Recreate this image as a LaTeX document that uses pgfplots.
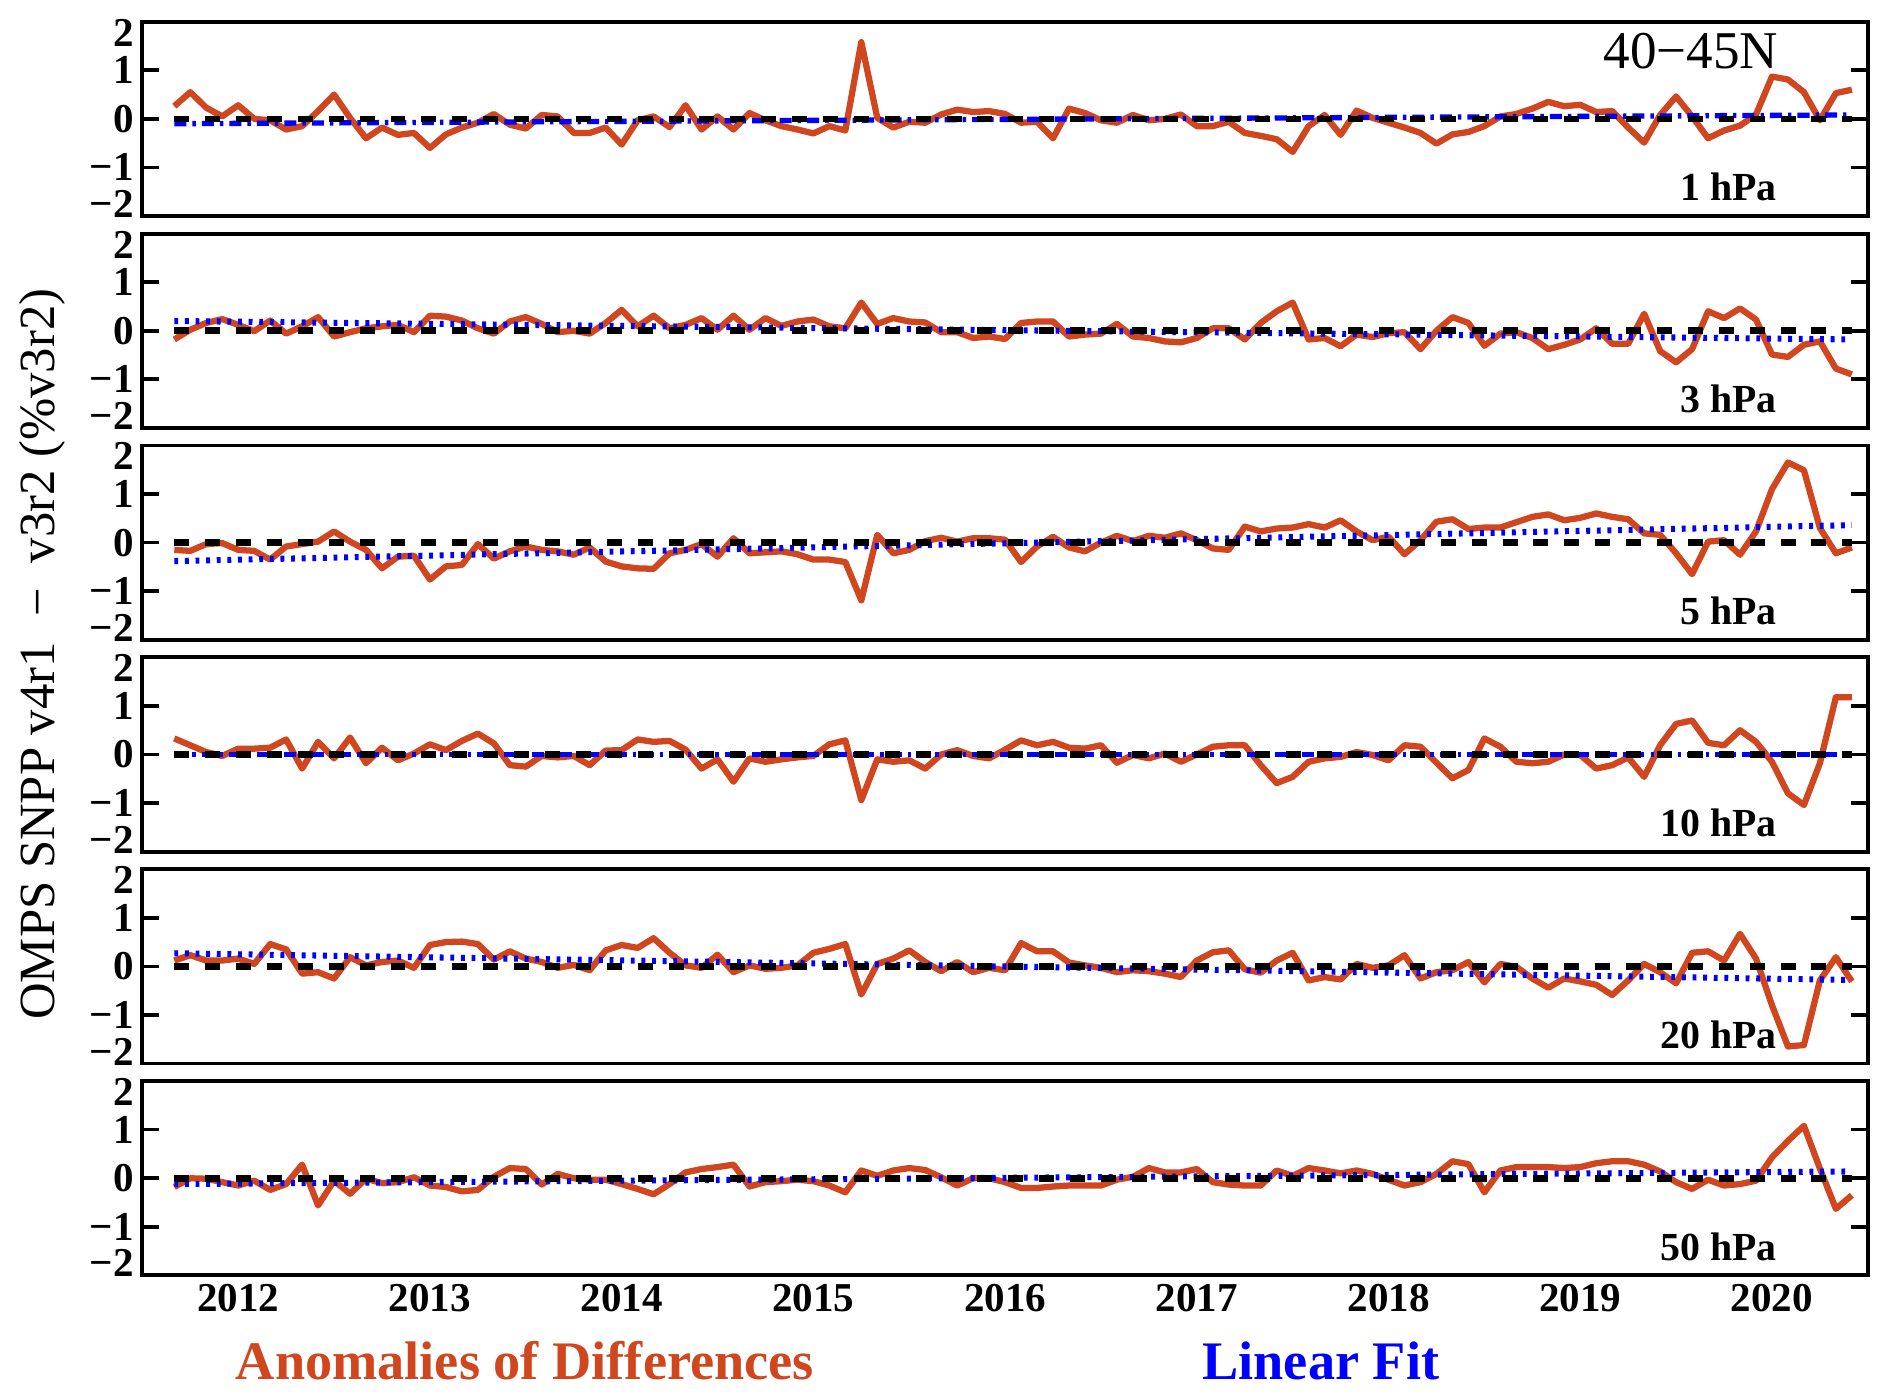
\documentclass[border=0pt]{standalone}
\usepackage{fontspec}
\setmainfont{Liberation Serif}
\usepackage{pgfplots}
\usepackage{pgfplotstable}
\pgfplotsset{compat=1.18}
\usepgfplotslibrary{groupplots}
\definecolor{anomred}{RGB}{208,70,30}

\newcommand{\tickfont}{\fontsize{17}{17}\selectfont\bfseries}
\newcommand{\labfont}{\fontsize{16.5}{16.5}\selectfont\bfseries}
\newcommand{\legfont}{\fontsize{22.5}{22.5}\selectfont\bfseries}

% month index k: 0 = Jan 2012, 108 = Jan 2021
\pgfplotstableread{
k p1 p2 p3 p4 p5 p6
2 0.26 -0.18 -0.15 0.33 0.12 -0.18
3 0.55 0.02 -0.17 0.19 0.23 0.00
4 0.23 0.16 -0.03 0.05 0.12 -0.01
5 0.05 0.24 -0.01 -0.03 0.12 -0.08
6 0.28 0.12 -0.15 0.12 0.16 -0.15
7 0.00 -0.01 -0.17 0.12 0.05 -0.05
8 -0.03 0.21 -0.35 0.14 0.46 -0.24
9 -0.22 -0.06 -0.08 0.31 0.35 -0.12
10 -0.15 0.09 -0.03 -0.29 -0.15 0.28
11 0.16 0.28 0.02 0.26 -0.12 -0.56
12 0.50 -0.12 0.23 -0.08 -0.25 -0.05
13 0.02 -0.03 0.02 0.35 0.19 -0.32
14 -0.40 0.05 -0.15 -0.18 0.02 -0.01
15 -0.18 0.09 -0.53 0.14 0.09 -0.10
16 -0.33 0.12 -0.29 -0.12 0.12 -0.08
17 -0.29 -0.03 -0.27 0.02 -0.03 0.02
18 -0.60 0.31 -0.76 0.21 0.44 -0.15
19 -0.32 0.29 -0.49 0.09 0.50 -0.18
20 -0.18 0.21 -0.46 0.28 0.51 -0.27
21 -0.08 0.05 -0.03 0.43 0.46 -0.24
22 0.10 -0.06 -0.33 0.23 0.14 0.03
23 -0.12 0.19 -0.18 -0.22 0.31 0.21
24 -0.20 0.28 -0.08 -0.25 0.16 0.19
25 0.08 0.14 -0.15 -0.03 0.09 -0.13
26 0.05 -0.03 -0.18 -0.06 -0.03 0.09
27 -0.29 0.00 -0.25 -0.03 0.03 0.00
28 -0.29 -0.06 -0.10 -0.22 -0.08 -0.03
29 -0.18 0.16 -0.39 0.08 0.33 -0.03
30 -0.53 0.43 -0.49 0.09 0.44 -0.12
31 -0.03 0.09 -0.53 0.31 0.38 -0.22
32 0.05 0.31 -0.54 0.26 0.58 -0.33
33 -0.17 0.05 -0.22 0.28 0.28 -0.12
34 0.28 0.12 -0.15 0.10 0.02 0.12
35 -0.22 0.26 -0.03 -0.29 -0.03 0.19
36 0.05 0.02 -0.29 -0.10 0.24 0.23
37 -0.22 0.31 0.09 -0.56 -0.12 0.28
38 0.12 0.02 -0.22 -0.08 0.02 -0.17
39 -0.03 0.26 -0.20 -0.15 -0.05 -0.08
40 -0.15 0.10 -0.18 -0.10 -0.03 -0.06
41 -0.22 0.19 -0.24 -0.06 0.02 -0.03
42 -0.30 0.23 -0.35 -0.03 0.28 -0.06
43 -0.15 0.09 -0.35 0.21 0.36 -0.15
44 -0.24 0.05 -0.40 0.29 0.46 -0.29
45 1.58 0.58 -1.19 -0.94 -0.58 0.16
46 0.02 0.14 0.16 -0.10 0.05 0.05
47 -0.18 0.26 -0.22 -0.15 0.16 0.16
48 -0.06 0.19 -0.15 -0.12 0.33 0.21
49 -0.08 0.17 0.03 -0.29 0.09 0.17
50 0.09 -0.03 0.10 0.00 -0.10 0.02
51 0.19 -0.03 0.02 0.09 0.09 -0.15
52 0.14 -0.15 0.09 -0.03 -0.12 0.00
53 0.16 -0.12 0.09 -0.08 -0.03 0.00
54 0.10 -0.17 0.06 0.10 -0.08 -0.08
55 -0.08 0.16 -0.40 0.29 0.48 -0.20
56 -0.06 0.19 -0.08 0.19 0.31 -0.20
57 -0.40 0.19 0.12 0.26 0.31 -0.17
58 0.21 -0.12 -0.10 0.14 0.08 -0.15
59 0.12 -0.08 -0.18 0.12 0.02 -0.15
60 -0.03 -0.06 0.00 0.19 -0.03 -0.15
61 -0.08 0.14 0.14 -0.17 -0.12 -0.03
62 0.08 -0.12 0.03 -0.01 -0.08 0.03
63 -0.03 -0.15 0.14 -0.08 -0.10 0.21
64 0.00 -0.22 0.10 0.02 -0.15 0.12
65 0.09 -0.24 0.19 -0.15 -0.22 0.12
66 -0.15 -0.15 0.05 0.00 0.12 0.19
67 -0.15 0.05 -0.12 0.16 0.29 -0.08
68 -0.06 0.05 -0.15 0.19 0.33 -0.13
69 -0.29 -0.18 0.33 0.19 -0.06 -0.15
70 -0.35 0.16 0.23 -0.22 -0.13 -0.15
71 -0.42 0.40 0.29 -0.59 0.12 0.16
72 -0.68 0.58 0.31 -0.46 0.28 0.05
73 -0.15 -0.18 0.38 -0.15 -0.29 0.21
74 0.08 -0.15 0.31 -0.08 -0.22 0.16
75 -0.33 -0.32 0.46 -0.05 -0.27 0.10
76 0.17 -0.08 0.23 0.05 0.05 0.16
77 0.02 -0.13 0.05 -0.01 -0.03 0.09
78 -0.08 -0.05 0.12 -0.12 0.02 -0.03
79 -0.18 -0.03 -0.24 0.19 0.23 -0.15
80 -0.29 -0.38 0.05 0.16 -0.25 -0.08
81 -0.51 0.00 0.43 -0.17 -0.12 0.09
82 -0.32 0.28 0.48 -0.49 -0.08 0.35
83 -0.27 0.16 0.28 -0.32 0.09 0.29
84 -0.15 -0.31 0.31 0.33 -0.33 -0.29
85 0.05 -0.06 0.31 0.16 0.05 0.16
86 0.10 -0.03 0.42 -0.15 -0.01 0.23
87 0.21 -0.15 0.53 -0.18 -0.25 0.23
88 0.35 -0.38 0.58 -0.15 -0.44 0.23
89 0.26 -0.29 0.46 0.00 -0.25 0.21
90 0.29 -0.18 0.51 -0.01 -0.31 0.23
91 0.14 0.05 0.60 -0.29 -0.38 0.31
92 0.16 -0.27 0.53 -0.22 -0.59 0.35
93 -0.18 -0.27 0.48 -0.06 -0.29 0.35
94 -0.49 0.35 0.19 -0.46 0.05 0.28
95 0.08 -0.42 0.16 0.19 -0.12 0.14
96 0.46 -0.65 -0.22 0.63 -0.35 -0.08
97 0.05 -0.38 -0.65 0.70 0.28 -0.22
98 -0.40 0.40 0.02 0.24 0.31 -0.03
99 -0.24 0.26 0.05 0.19 0.12 -0.15
100 -0.14 0.46 -0.25 0.50 0.67 -0.12
101 0.09 0.23 0.23 0.26 0.16 -0.05
102 0.87 -0.49 1.10 -0.15 -0.80 0.43
103 0.81 -0.54 1.65 -0.80 -1.65 0.77
104 0.55 -0.29 1.49 -1.04 -1.62 1.08
105 -0.03 -0.22 0.30 -0.18 -0.29 0.20
106 0.53 -0.78 -0.22 1.18 0.19 -0.63
107 0.60 -0.90 -0.10 1.18 -0.31 -0.35
}\anom

\tikzset{
  anom/.style={color=anomred, line width=2.6pt, line join=round},
  zero/.style={black, line width=2.7pt, dash pattern=on 6.2pt off 6.6pt},
  fitdot/.style={blue, line width=2.5pt, dash pattern=on 1.6pt off 2.8pt},
  fitdd/.style={blue, line width=2.2pt, dash pattern=on 5pt off 2.5pt on 1.4pt off 2.5pt},
}

\begin{document}
\begin{tikzpicture}
\begin{groupplot}[
  group style={group size=1 by 6, vertical sep=7.3pt},
  width=715pt, height=80.5pt, scale only axis,
  xmin=0, xmax=108, ymin=-2, ymax=2,
  xtick=\empty, minor xtick={12,24,36,48,60,72,84,96},
  ytick={-2,-1,0,1,2},
  yticklabels={\raisebox{5pt}[\height][\depth]{−2},−1,0,1,\raisebox{-4.5pt}[\height][\depth]{2}},
  tick align=inside,
  major tick length=7pt, minor tick length=2.5pt,
  every tick/.style={black, line width=1.5pt},
  axis line style={line width=1.6pt},
  yticklabel style={font=\tickfont},
  xticklabel style={font=\tickfont},
  clip=false,
]
\nextgroupplot
\addplot[anom] table[x=k, y=p1] {\anom};
\addplot[fitdd] coordinates {(2,-0.10) (107,0.08)};
\addplot[zero] coordinates {(2,0) (107,0)};
\node[anchor=east, font=\fontsize{22}{22}\selectfont] at (rel axis cs:0.953,0.851) {40−45N};
\node[anchor=east, font=\labfont] at (rel axis cs:0.952,0.149) {1 hPa};
\node[rotate=90, font=\fontsize{21}{21}\selectfont] at (rel axis cs:-0.058,-2.255) {OMPS SNPP v4r1 \ − \ v3r2 (\%v3r2)};
\path (rel axis cs:-0.0825,1.1118) rectangle (rel axis cs:1.014,-6.093);

\nextgroupplot
\addplot[anom] table[x=k, y=p2] {\anom};
\addplot[fitdot] coordinates {(2,0.20) (107,-0.18)};
\addplot[zero] coordinates {(2,0) (107,0)};
\node[anchor=east, font=\labfont] at (rel axis cs:0.952,0.149) {3 hPa};

\nextgroupplot
\addplot[anom] table[x=k, y=p3] {\anom};
\addplot[fitdot] coordinates {(2,-0.38) (107,0.36)};
\addplot[zero] coordinates {(2,0) (107,0)};
\node[anchor=east, font=\labfont] at (rel axis cs:0.952,0.149) {5 hPa};

\nextgroupplot
\addplot[anom] table[x=k, y=p4] {\anom};
\addplot[fitdd] coordinates {(2,0.0) (107,0.0)};
\addplot[zero] coordinates {(2,0) (107,0)};
\node[anchor=east, font=\labfont] at (rel axis cs:0.952,0.149) {10 hPa};

\nextgroupplot
\addplot[anom] table[x=k, y=p5] {\anom};
\addplot[fitdot] coordinates {(2,0.27) (107,-0.28)};
\addplot[zero] coordinates {(2,0) (107,0)};
\node[anchor=east, font=\labfont] at (rel axis cs:0.952,0.149) {20 hPa};

\nextgroupplot[
  extra x ticks={6,18,30,42,54,66,78,90,102},
  extra x tick labels={2012,2013,2014,2015,2016,2017,2018,2019,2020},
  extra x tick style={major tick length=0pt},
]
\addplot[anom] table[x=k, y=p6] {\anom};
\addplot[fitdot] coordinates {(2,-0.12) (107,0.14)};
\addplot[zero] coordinates {(2,0) (107,0)};
\node[anchor=east, font=\labfont] at (rel axis cs:0.952,0.149) {50 hPa};
\node[font=\legfont, text=anomred] at (rel axis cs:0.2217,-0.441) {Anomalies of Differences};
\node[font=\legfont, text=blue] at (rel axis cs:0.683,-0.441) {Linear Fit};
\end{groupplot}
\end{tikzpicture}
\end{document}
